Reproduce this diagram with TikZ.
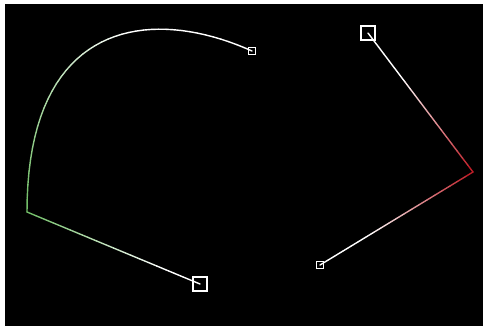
\documentclass[tikz,border=0pt]{standalone}
\usepackage{tikz}
\usetikzlibrary{calc}
\definecolor{handlegreen}{RGB}{115,190,105}
\definecolor{handlered}{RGB}{190,30,40}
\tikzstyle{bigknot} = [rectangle, draw=white, line width=1.6pt, minimum size=13.5pt, inner sep=0pt]
\tikzstyle{smallknot} = [rectangle, draw=white, line width=1.4pt, minimum size=7.5pt, inner sep=0pt]
\tikzstyle{wire} = [line width=1.4pt, line cap=round, line join=round]

\begin{document}
\begin{tikzpicture}[x=1pt, y=-1pt,
    declare function={bx(\t)=(1-\t)^3*27+3*(1-\t)^2*\t*27+3*(1-\t)*\t^2*150+\t^3*252;
                      by(\t)=(1-\t)^3*212+3*(1-\t)^2*\t*20+3*(1-\t)*\t^2*5+\t^3*51;}]
    \useasboundingbox (0,0) rectangle (483,325);
    \fill[black] (-1,-1) rectangle (484,326);
    \fill[white] (-1,-1) rectangle (484,4);
    \fill[white] (-1,-1) rectangle (5,326);

    % Nodes
    \node (lstart) [bigknot] at (200,284) {};
    \coordinate (lcorner) at (27,212);
    \node (lend) [smallknot] at (252,51) {};
    \node (rstart) [bigknot] at (368,33) {};
    \coordinate (rcorner) at (473,172);
    \node (rend) [smallknot] at (320,265) {};

    % Left handle and curve
    \foreach \k in {0,...,19} {
        \pgfmathsetmacro\ta{\k/20}
        \pgfmathsetmacro\tb{(\k+1)/20}
        \pgfmathsetmacro\pct{min(100,130*\ta)}
        \draw[wire, color=white!\pct!handlegreen] ($(lcorner)!\ta!(lstart.center)$) -- ($(lcorner)!\tb!(lstart.center)$);
    }
    \foreach \k in {0,...,39} {
        \pgfmathsetmacro\ta{\k/40}
        \pgfmathsetmacro\tb{(\k+1)/40}
        \pgfmathsetmacro\pct{min(100,170*\ta)}
        \draw[wire, color=white!\pct!handlegreen] ({bx(\ta)},{by(\ta)}) -- ({bx(\tb)},{by(\tb)});
    }

    % Right polygon
    \foreach \k in {0,...,19} {
        \pgfmathsetmacro\ta{\k/20}
        \pgfmathsetmacro\tb{(\k+1)/20}
        \pgfmathsetmacro\pct{min(100,150*\ta)}
        \draw[wire, color=white!\pct!handlered] ($(rcorner)!\ta!(rstart.center)$) -- ($(rcorner)!\tb!(rstart.center)$);
        \draw[wire, color=white!\pct!handlered] ($(rcorner)!\ta!(rend.center)$) -- ($(rcorner)!\tb!(rend.center)$);
    }
\end{tikzpicture}
\end{document}
